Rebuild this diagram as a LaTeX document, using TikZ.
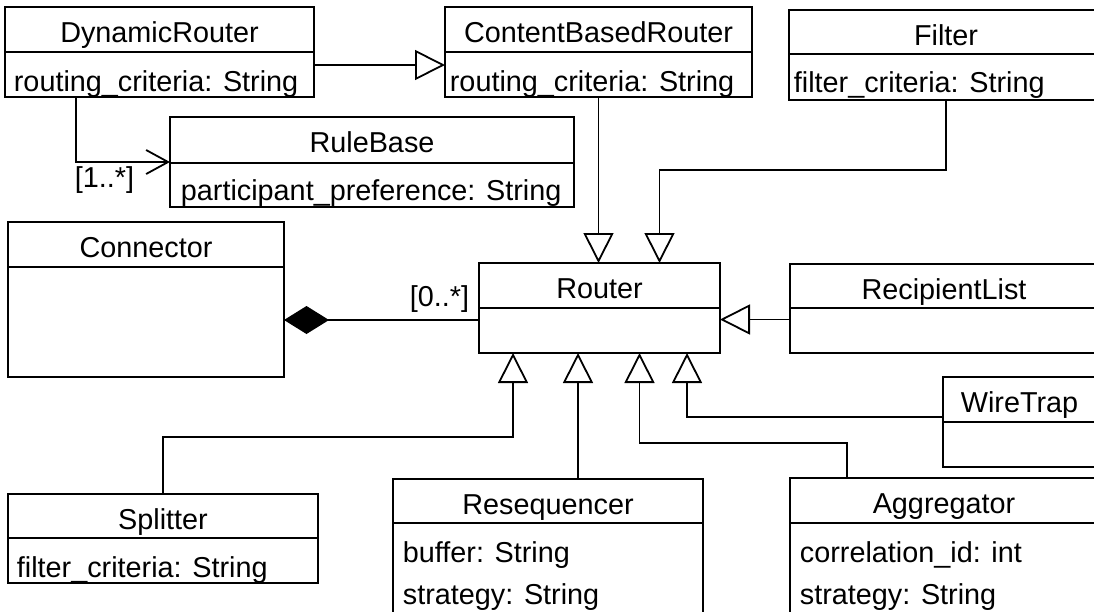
\documentclass[tikz,border=0pt]{standalone}
\usepackage{fontspec}
\setmainfont{Liberation Sans}
\usetikzlibrary{arrows.meta,fit}
\newcommand{\umlbox}[7]{%
  \node[cls, fit={(#2,#3) (#4,#5)}] (#1) {};
  \draw ([yshift=-#6pt]#1.north west) -- ([yshift=-#6pt]#1.north east);
  \node[ttl] (#1-t) at ([yshift=-35pt]#1.north) {#7};
}
\begin{document}
\begin{tikzpicture}[x=1pt,y=-1pt,line width=1.8pt,
  every node/.style={font=\fontsize{28.8}{34}\selectfont},
  cls/.style={draw, rectangle, inner sep=0pt, outer sep=0pt},
  ttl/.style={anchor=base, inner sep=0pt},
  attr/.style={anchor=base west, inner sep=0pt},
  gen/.style={-{Triangle[open,length=30pt,width=30pt]}},
  assoc/.style={-{Straight Barb[length=22pt,width=24pt]}},
  comp/.style={-{Diamond[length=45pt,width=28pt]}}]
\useasboundingbox (0,0) rectangle (1094,611);
\clip (0,0) rectangle (1094,611);

\umlbox{dr}{5}{7}{314}{97}{45}{DynamicRouter}
\umlbox{cbr}{445}{7}{752}{97}{45}{ContentBasedRouter}
\umlbox{filt}{789}{10}{1103}{100}{44}{Filter}
\umlbox{rb}{170}{117}{574}{207}{46}{RuleBase}
\umlbox{con}{8}{222}{284}{377}{45}{Connector}
\umlbox{rt}{479}{263}{720}{353}{45}{Router}
\umlbox{rl}{790}{264}{1098}{353}{44}{RecipientList}
\umlbox{wt}{943}{377}{1096}{467}{45}{WireTrap}
\umlbox{spl}{8}{494}{318}{583}{44}{Splitter}
\umlbox{rs}{393}{479}{703}{650}{44}{Resequencer}
\umlbox{ag}{790}{478}{1098}{650}{45}{Aggregator}

\node[attr] (dr-a) at (13,91) {routing\_criteria: String};
\node[attr] (cbr-a) at (449,91) {routing\_criteria: String};
\node[attr] (filt-a) at (793,92) {filter\_criteria: String};
\node[attr] (rb-a) at (180,200) {participant\_preference: String};
\node[attr] (spl-a) at (16,577) {filter\_criteria: String};
\node[attr] (rs-a1) at (402,562) {buffer: String};
\node[attr] (rs-a2) at (402,604) {strategy: String};
\node[attr] (ag-a1) at (799,562) {correlation\_id: int};
\node[attr] (ag-a2) at (799,604) {strategy: String};

% connectors
\draw[gen] ([yshift=-13pt]dr.east) -- ([yshift=-13pt]cbr.west);
\draw[assoc] ([xshift=71pt]dr.south west) |- (rb.west);
\node[anchor=base west, inner sep=0pt] (m1) at (74,187) {[1..*]};
\draw[gen] (cbr.south) -- (cbr.south |- rt.north);
\draw[gen] (filt.south) -- ++(0,70) -| ([xshift=60pt]rt.north);
\draw[comp] ([yshift=-12pt]rt.west) -- ([yshift=-12pt]rt.west -| con.east);
\node[anchor=base east, inner sep=0pt] (m2) at (470,306) {[0..*]};
\draw[gen] ([yshift=-11pt]rl.west) -- ([yshift=-11pt]rl.west -| rt.east);
\draw[gen] (spl.north) -- ++(0,-57) -| ([xshift=-86.5pt]rt.south);
\draw[gen] ([xshift=30pt]rs.north) -- ([xshift=30pt]rs.north |- rt.south);
\draw[gen] ([xshift=-97pt]ag.north) -- ++(0,-35) -| ([xshift=40pt]rt.south);
\draw[gen] ([yshift=5pt]wt.west) -| ([xshift=87.5pt]rt.south);
\end{tikzpicture}
\end{document}
